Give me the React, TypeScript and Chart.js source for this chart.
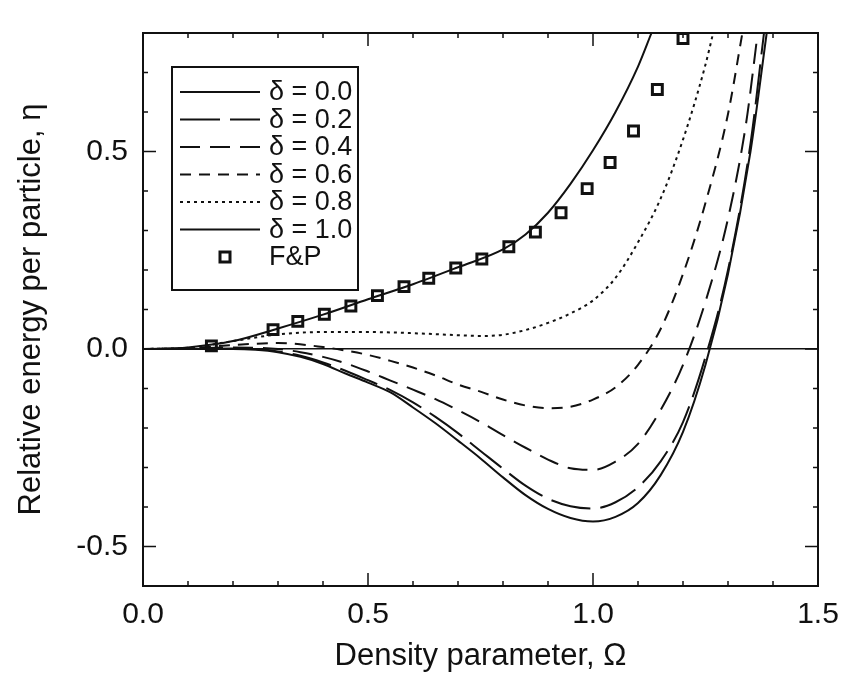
import React, { useEffect, useRef } from "react";
import { Chart, registerables } from "chart.js";

Chart.register(...registerables);

// ---- axis / label data ----
const xMajorTicks = [0, 0.5, 1.0, 1.5];
const yMajorTicks = [-0.5, 0.0, 0.5];
const xTitle = "Density parameter, Ω";
const yTitle = "Relative energy per particle, η";
const legendLabels = ["δ = 0.0", "δ = 0.2", "δ = 0.4", "δ = 0.6", "δ = 0.8", "δ = 1.0", "F&P"];

// ---- series ----
const omegaD00 = [0, 0.1, 0.2, 0.25, 0.3, 0.35, 0.4, 0.45, 0.5, 0.55, 0.6, 0.65, 0.7, 0.75, 0.8, 0.85, 0.9, 0.95, 1.0, 1.05, 1.1, 1.15, 1.2, 1.25, 1.3, 1.35, 1.386];
const etaD00 = [0, 0, 0, -0.002, -0.008, -0.02, -0.038, -0.062, -0.085, -0.11, -0.148, -0.188, -0.232, -0.277, -0.325, -0.37, -0.405, -0.428, -0.437, -0.425, -0.39, -0.32, -0.21, -0.04, 0.19, 0.5, 0.8];

const omegaD02 = [0, 0.1, 0.2, 0.25, 0.3, 0.35, 0.4, 0.45, 0.5, 0.55, 0.6, 0.65, 0.7, 0.75, 0.8, 0.85, 0.9, 0.95, 1.0, 1.05, 1.1, 1.15, 1.2, 1.25, 1.3, 1.35, 1.38];
const etaD02 = [0, 0, 0.001, 0, -0.006, -0.017, -0.034, -0.055, -0.079, -0.104, -0.135, -0.172, -0.213, -0.258, -0.303, -0.346, -0.379, -0.398, -0.404, -0.388, -0.35, -0.285, -0.185, -0.02, 0.2, 0.52, 0.8];

const omegaD04 = [0, 0.1, 0.2, 0.3, 0.35, 0.4, 0.45, 0.5, 0.55, 0.6, 0.65, 0.7, 0.75, 0.8, 0.85, 0.9, 0.95, 1.0, 1.05, 1.1, 1.15, 1.2, 1.25, 1.3, 1.34, 1.366];
const etaD04 = [0, 0.001, 0.004, 0.0, -0.008, -0.02, -0.036, -0.057, -0.08, -0.103, -0.127, -0.155, -0.185, -0.218, -0.25, -0.28, -0.302, -0.306, -0.285, -0.24, -0.155, -0.04, 0.12, 0.33, 0.57, 0.8];

const omegaD06 = [0, 0.1, 0.2, 0.3, 0.4, 0.45, 0.5, 0.55, 0.6, 0.65, 0.7, 0.75, 0.8, 0.85, 0.9, 0.95, 1.0, 1.05, 1.1, 1.15, 1.2, 1.25, 1.3, 1.332];
const etaD06 = [0, 0.002, 0.01, 0.015, 0.005, -0.004, -0.015, -0.03, -0.047, -0.067, -0.09, -0.108, -0.128, -0.143, -0.15, -0.146, -0.128, -0.097, -0.04, 0.05, 0.19, 0.37, 0.595, 0.8];

const omegaD08 = [0, 0.1, 0.2, 0.3, 0.4, 0.5, 0.6, 0.7, 0.75, 0.8, 0.85, 0.9, 0.95, 1.0, 1.05, 1.1, 1.15, 1.2, 1.25, 1.267];
const etaD08 = [0, 0.003, 0.02, 0.037, 0.043, 0.043, 0.04, 0.035, 0.033, 0.036, 0.048, 0.066, 0.09, 0.123, 0.18, 0.27, 0.38, 0.53, 0.72, 0.8];

const omegaD10 = [0, 0.1, 0.2, 0.3, 0.4, 0.5, 0.6, 0.7, 0.8, 0.85, 0.9, 0.95, 1.0, 1.05, 1.1, 1.13];
const etaD10 = [0, 0.004, 0.02, 0.052, 0.087, 0.126, 0.164, 0.207, 0.252, 0.29, 0.345, 0.418, 0.503, 0.6, 0.715, 0.8];

const omegaFP = [0.152, 0.289, 0.344, 0.403, 0.462, 0.521, 0.58, 0.635, 0.695, 0.753, 0.813, 0.872, 0.929, 0.987, 1.038, 1.09, 1.143, 1.2];
const etaFP = [0.008, 0.049, 0.07, 0.088, 0.109, 0.135, 0.158, 0.179, 0.205, 0.228, 0.259, 0.296, 0.345, 0.406, 0.472, 0.552, 0.657, 0.786];

const INK = "#111111";
const FONT = "'Liberation Sans', Arial, Helvetica, sans-serif";

const isMajor = (v: number, list: number[]) => list.some((m) => Math.abs(m - v) < 1e-6);

export default function App() {
  const ref = useRef<HTMLCanvasElement>(null);

  useEffect(() => {
    if (!ref.current) return;
    const pts = (xs: number[], ys: number[]) => xs.map((x, i) => ({ x, y: ys[i] }));
    const curves = [
      { xs: omegaD00, ys: etaD00, dash: [] as number[] },
      { xs: omegaD02, ys: etaD02, dash: [40, 10] },
      { xs: omegaD04, ys: etaD04, dash: [20, 10] },
      { xs: omegaD06, ys: etaD06, dash: [11, 8] },
      { xs: omegaD08, ys: etaD08, dash: [3, 4] },
      { xs: omegaD10, ys: etaD10, dash: [] as number[] },
    ];
    const datasets: any[] = curves.map((c, i) => ({
      label: legendLabels[i],
      data: pts(c.xs, c.ys),
      showLine: true,
      borderColor: INK,
      borderWidth: 2,
      borderDash: c.dash,
      pointRadius: 0,
      cubicInterpolationMode: "monotone",
      fill: false,
    }));
    datasets.push({
      label: legendLabels[6],
      data: pts(omegaFP, etaFP),
      showLine: false,
      pointStyle: "rect",
      pointRadius: 7,
      pointBorderWidth: 3,
      pointBorderColor: INK,
      pointBackgroundColor: "#ffffff",
    });

    const decorPlugin = {
      id: "decor",
      afterDatasetsDraw(chart: any) {
        const { ctx, chartArea: a, scales } = chart;
        const xs = scales.x;
        const ys = scales.y;
        ctx.save();
        ctx.strokeStyle = INK;
        ctx.setLineDash([]);
        // frame
        ctx.lineWidth = 2;
        ctx.strokeRect(a.left, a.top, a.right - a.left, a.bottom - a.top);
        // inward ticks on all four sides
        ctx.lineWidth = 1.5;
        xs.ticks.forEach((t: any) => {
          const p = xs.getPixelForValue(t.value);
          const len = isMajor(t.value, xMajorTicks) ? 13 : 5;
          ctx.beginPath();
          ctx.moveTo(p, a.bottom);
          ctx.lineTo(p, a.bottom - len);
          ctx.moveTo(p, a.top);
          ctx.lineTo(p, a.top + len);
          ctx.stroke();
        });
        ys.ticks.forEach((t: any) => {
          const p = ys.getPixelForValue(t.value);
          const len = isMajor(t.value, yMajorTicks) ? 13 : 5;
          ctx.beginPath();
          ctx.moveTo(a.left, p);
          ctx.lineTo(a.left + len, p);
          ctx.moveTo(a.right, p);
          ctx.lineTo(a.right - len, p);
          ctx.stroke();
        });

        // legend box inside the plot
        const bx = a.left + 29;
        const by = a.top + 34;
        const bw = 186;
        const bh = 223;
        ctx.fillStyle = "#ffffff";
        ctx.fillRect(bx, by, bw, bh);
        ctx.lineWidth = 2;
        ctx.strokeRect(bx, by, bw, bh);
        ctx.font = `27px ${FONT}`;
        ctx.textBaseline = "middle";
        ctx.textAlign = "left";
        chart.data.datasets.forEach((ds: any, i: number) => {
          const ry = by + 25 + i * 27.5;
          const x0 = bx + 8;
          const x1 = bx + 88;
          if (ds.showLine) {
            ctx.save();
            ctx.lineWidth = 2;
            ctx.setLineDash(ds.borderDash || []);
            ctx.beginPath();
            ctx.moveTo(x0, ry);
            ctx.lineTo(x1, ry);
            ctx.stroke();
            ctx.restore();
          } else {
            const s = 5;
            const cx = bx + 53;
            ctx.save();
            ctx.lineWidth = 3;
            ctx.fillStyle = "#ffffff";
            ctx.fillRect(cx - s, ry - s, 2 * s, 2 * s);
            ctx.strokeRect(cx - s, ry - s, 2 * s, 2 * s);
            ctx.restore();
          }
          ctx.fillStyle = INK;
          ctx.fillText(ds.label, bx + 97, ry + 1);
        });
        ctx.restore();
      },
    };

    const chart = new Chart(ref.current, {
      type: "scatter",
      data: { datasets },
      options: {
        animation: false,
        responsive: false,
        devicePixelRatio: 1,
        layout: { padding: { top: 13, right: 35, left: 0, bottom: 0 } },
        plugins: { legend: { display: false }, tooltip: { enabled: false } },
        scales: {
          x: {
            type: "linear",
            min: 0,
            max: 1.5,
            afterFit: (s: any) => {
              s.height = 97;
            },
            grid: { display: false, drawTicks: false },
            border: { display: false },
            ticks: {
              stepSize: 0.1,
              autoSkip: false,
              maxTicksLimit: 100,
              maxRotation: 0,
              padding: 11,
              color: INK,
              font: { family: FONT, size: 30 },
              callback: (v: any) => (isMajor(Number(v), xMajorTicks) ? Number(v).toFixed(1) : ""),
            },
            title: {
              display: true,
              text: xTitle,
              color: INK,
              font: { family: FONT, size: 31 },
              padding: { top: 0, bottom: 8 },
            },
          },
          y: {
            type: "linear",
            min: -0.6,
            max: 0.8,
            afterFit: (s: any) => {
              s.width = 143;
            },
            grid: {
              drawTicks: false,
              color: (c: any) => (c.tick && Math.abs(c.tick.value) < 1e-9 ? INK : "rgba(0,0,0,0)"),
              lineWidth: 1.5,
            },
            border: { display: false },
            ticks: {
              stepSize: 0.1,
              autoSkip: false,
              maxTicksLimit: 100,
              padding: 15,
              color: INK,
              font: { family: FONT, size: 30 },
              callback: (v: any) => (isMajor(Number(v), yMajorTicks) ? Number(v).toFixed(1) : ""),
            },
            title: {
              display: true,
              text: yTitle,
              color: INK,
              font: { family: FONT, size: 31 },
              padding: { top: 13, bottom: 0 },
            },
          },
        },
      },
      plugins: [decorPlugin],
    } as any);

    return () => chart.destroy();
  }, []);

  return (
    <div style={{ position: "absolute", left: 0, top: 0, width: 853, height: 683, background: "#fff" }}>
      <canvas ref={ref} width={853} height={683} />
    </div>
  );
}
